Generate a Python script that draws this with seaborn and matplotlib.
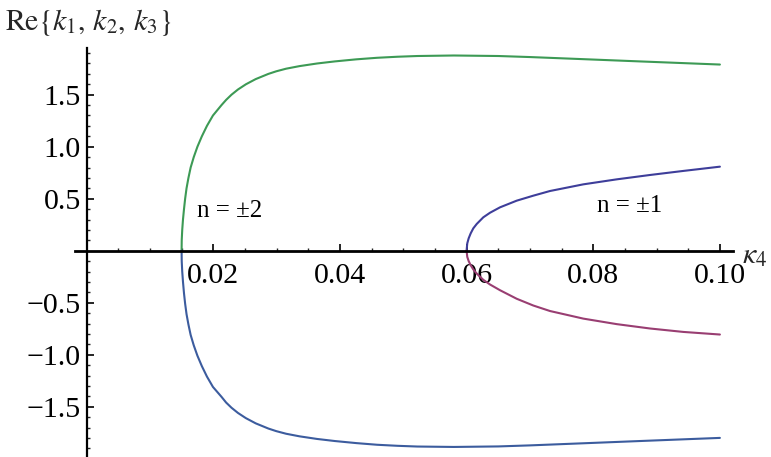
import numpy as np
import pandas as pd
import matplotlib
matplotlib.use("Agg")
import matplotlib.pyplot as plt
import seaborn as sns
from matplotlib.ticker import FixedLocator

# ---- data ----
k4_n2 = [0.0150, 0.01502, 0.0151, 0.01522, 0.01538, 0.01556, 0.01578, 0.01608, 0.01643, 0.01692,
         0.0175, 0.0182, 0.0190, 0.01995, 0.0213, 0.02203, 0.02288, 0.0239, 0.02515, 0.0267,
         0.0287, 0.02995, 0.0315, 0.03363, 0.03638, 0.03918, 0.04258, 0.04588, 0.04908, 0.05223,
         0.0580, 0.0650, 0.0700, 0.0779, 0.0874, 0.1000]
re_n2_upper = [0.0, 0.1, 0.2, 0.3, 0.4, 0.5, 0.6, 0.7, 0.8, 0.9,
               1.0, 1.1, 1.2, 1.3, 1.4, 1.45, 1.5, 1.55, 1.6, 1.65,
               1.7, 1.725, 1.75, 1.775, 1.8, 1.82, 1.84, 1.855, 1.865, 1.872,
               1.877, 1.872, 1.862, 1.843, 1.82, 1.79]
re_n2_lower = [0.0, -0.1, -0.2, -0.3, -0.41, -0.51, -0.61, -0.71, -0.81, -0.91,
               -1.01, -1.11, -1.21, -1.31, -1.405, -1.46, -1.51, -1.56, -1.61, -1.66,
               -1.71, -1.735, -1.76, -1.785, -1.81, -1.83, -1.85, -1.866, -1.876, -1.883,
               -1.887, -1.882, -1.872, -1.853, -1.83, -1.80]

k4_n1 = [0.0600, 0.06011, 0.06033, 0.06065, 0.06106, 0.0616, 0.06264, 0.0637, 0.06528,
         0.06791, 0.07053, 0.07317, 0.07843, 0.0837, 0.08896, 0.09422, 0.1000]
re_n1_upper = [0.0, 0.071, 0.119, 0.167, 0.215, 0.257, 0.321, 0.365, 0.417,
               0.481, 0.529, 0.574, 0.638, 0.686, 0.728, 0.767, 0.808]
re_n1_lower = [0.0, -0.06, -0.10, -0.14, -0.18, -0.22, -0.28, -0.325, -0.38,
               -0.462, -0.527, -0.58, -0.653, -0.706, -0.748, -0.781, -0.806]

x_ticks = [0.02, 0.04, 0.06, 0.08, 0.10]
x_tick_labels = ["0.02", "0.04", "0.06", "0.08", "0.10"]
y_ticks = [-1.5, -1.0, -0.5, 0.5, 1.0, 1.5]
y_tick_labels = ["\u22121.5", "\u22121.0", "\u22120.5", "0.5", "1.0", "1.5"]

colors = {"n2_up": "#3d9a55", "n2_low": "#3c5c9e", "n1_up": "#3e3e9a", "n1_low": "#993e72"}

sns.set_theme(style="white")
plt.rcParams["font.family"] = ["Liberation Serif", "DejaVu Serif"]
plt.rcParams["mathtext.fontset"] = "stix"

W, H = 771, 457
fig = plt.figure(figsize=(W / 100, H / 100), dpi=100)
ax = fig.add_axes([75 / W, 0.0, (733 - 75) / W, (457 - 48) / H])
ax.set_xlim((75 - 86.6) / 6333, (733 - 86.6) / 6333)
ax.set_ylim((250.7 - 457) / 104, (250.7 - 48) / 104)

lw = 1.5
branches = [
    (k4_n2, re_n2_upper, colors["n2_up"]),
    (k4_n2, re_n2_lower, colors["n2_low"]),
    (k4_n1, re_n1_upper, colors["n1_up"]),
    (k4_n1, re_n1_lower, colors["n1_low"]),
]
for xs, ys, c in branches:
    df = pd.DataFrame({"k4": xs, "re": ys})
    sns.lineplot(data=df, x="k4", y="re", ax=ax, color=c, lw=lw, sort=False, estimator=None)

ax.set_xlabel("")
ax.set_ylabel("")
for s in ["top", "right"]:
    ax.spines[s].set_visible(False)
ax.spines["left"].set_position(("data", 0))
ax.spines["bottom"].set_position(("data", 0))
ax.spines["bottom"].set_linewidth(2.0)
ax.spines["left"].set_linewidth(1.6)
ax.spines["bottom"].set_color("black")
ax.spines["left"].set_color("black")

ax.xaxis.set_major_locator(FixedLocator(x_ticks))
ax.set_xticklabels(x_tick_labels)
ax.xaxis.set_minor_locator(FixedLocator([i * 0.005 for i in range(1, 21) if i % 4 != 0]))
ax.yaxis.set_major_locator(FixedLocator(y_ticks))
ax.set_yticklabels(y_tick_labels)
ax.yaxis.set_minor_locator(FixedLocator([round(i * 0.1, 1) for i in range(-19, 20) if i % 5 != 0]))

ax.tick_params(axis="x", which="major", direction="in", length=5, width=1.2, pad=9,
               labelsize=21.5, colors="black", bottom=True)
ax.tick_params(axis="x", which="minor", direction="in", length=2.5, width=1.0, bottom=True)
ax.tick_params(axis="y", which="major", direction="in", length=5, width=1.2, pad=4,
               labelsize=21.5, colors="black", left=True)
ax.tick_params(axis="y", which="minor", direction="in", length=2.5, width=1.0, left=True)

ax.text(0.02264, 0.38, "n = \u00b12", fontsize=18, ha="center", va="center", color="black")
ax.text(0.0858, 0.425, "n = \u00b11", fontsize=18, ha="center", va="center", color="black")

fig.text(5 / W, 1 - 22 / H, r"$\mathrm{Re}\{k_1,\,k_2,\,k_3\}$", fontsize=21.5, ha="left", va="center")
fig.text(742 / W, 1 - 256 / H, r"$\kappa_4$", fontsize=21.5, ha="left", va="center")

fig.savefig("out.png", dpi=100)
